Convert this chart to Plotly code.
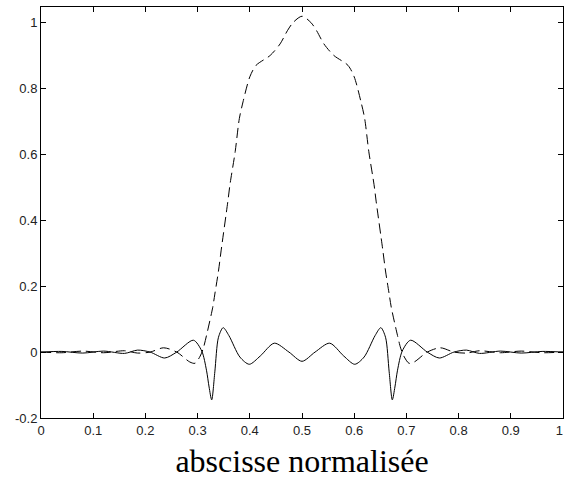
import plotly.graph_objects as go

# ---- data ----
x_solid = [0.00, 0.04, 0.08, 0.12, 0.16, 0.185, 0.209, 0.237, 0.26, 0.292, 0.308, 0.317,
           0.322, 0.327, 0.333, 0.340, 0.349, 0.360, 0.381, 0.399, 0.420, 0.447, 0.475,
           0.500, 0.525, 0.553, 0.580, 0.601, 0.619, 0.640, 0.651, 0.660, 0.667, 0.673,
           0.678, 0.683, 0.692, 0.708, 0.740, 0.763, 0.791, 0.815, 0.840, 0.880, 0.920,
           0.960, 1.00]
y_solid = [0.000, 0.002, -0.003, 0.003, -0.004, 0.006, 0.000, -0.018, 0.000, 0.036, 0.003, -0.055,
           -0.106, -0.145, -0.060, 0.045, 0.074, 0.050, -0.015, -0.037, -0.012, 0.027, 0.000,
           -0.028, 0.000, 0.027, -0.012, -0.037, -0.015, 0.050, 0.074, 0.045, -0.060, -0.145,
           -0.106, -0.055, 0.003, 0.036, 0.000, -0.018, 0.000, 0.006, -0.004, 0.003, -0.003,
           0.002, 0.000]

x_dashed = [0.00, 0.04, 0.08, 0.12, 0.16, 0.185, 0.209, 0.235, 0.26, 0.285, 0.295, 0.305,
            0.311, 0.317, 0.329, 0.333, 0.340, 0.345, 0.358, 0.362, 0.372, 0.380, 0.387,
            0.400, 0.412, 0.439, 0.458, 0.472, 0.483, 0.500, 0.517, 0.528, 0.542, 0.561,
            0.588, 0.600, 0.613, 0.620, 0.628, 0.638, 0.642, 0.655, 0.660, 0.667, 0.671,
            0.683, 0.689, 0.695, 0.705, 0.715, 0.740, 0.765, 0.791, 0.815, 0.840, 0.880,
            0.920, 0.960, 1.00]
y_dashed = [0.000, -0.002, 0.003, -0.002, 0.004, -0.003, 0.000, 0.013, 0.000, -0.030, -0.034, -0.012,
            0.012, 0.050, 0.136, 0.176, 0.246, 0.307, 0.458, 0.508, 0.608, 0.709, 0.759,
            0.835, 0.870, 0.900, 0.935, 0.975, 1.000, 1.019, 1.000, 0.975, 0.935, 0.900,
            0.870, 0.835, 0.759, 0.709, 0.608, 0.508, 0.458, 0.307, 0.246, 0.176, 0.136,
            0.050, 0.012, -0.012, -0.034, -0.030, 0.000, 0.013, 0.000, -0.003, 0.004, -0.002,
            0.003, -0.002, 0.000]

x_tick_vals = [0, 0.1, 0.2, 0.3, 0.4, 0.5, 0.6, 0.7, 0.8, 0.9, 1]
x_tick_text = ["0", "0.1", "0.2", "0.3", "0.4", "0.5", "0.6", "0.7", "0.8", "0.9", "1\u00a0\u00a0"]
y_tick_vals = [-0.2, 0, 0.2, 0.4, 0.6, 0.8, 1]
y_tick_text = ["-0.2", "0", "0.2", "0.4", "0.6", "0.8", "1"]

x_title = "abscisse normalisée"

fig = go.Figure()
fig.add_trace(go.Scatter(x=x_dashed, y=y_dashed, mode="lines",
                         line=dict(color="black", width=1, dash="10px,5px", shape="spline", smoothing=0.8),
                         showlegend=False, hoverinfo="skip"))
fig.add_trace(go.Scatter(x=x_solid, y=y_solid, mode="lines",
                         line=dict(color="black", width=1, shape="spline", smoothing=0.8),
                         showlegend=False, hoverinfo="skip"))

axis_common = dict(showgrid=False, zeroline=False, showline=True, linecolor="black",
                   linewidth=1, mirror="ticks", ticks="inside", ticklen=5, tickwidth=1,
                   tickcolor="black", automargin=False, ticklabeloverflow="allow",
                   tickfont=dict(family="Liberation Sans, Arial, sans-serif", size=13, color="#222"))

fig.update_layout(
    width=565, height=484,
    margin=dict(l=41, r=2, t=7, b=66, autoexpand=False),
    paper_bgcolor="white", plot_bgcolor="white",
    xaxis=dict(range=[0, 1], tickvals=x_tick_vals, ticktext=x_tick_text,
               title=dict(text=x_title, standoff=13,
                          font=dict(family="Liberation Serif, Times New Roman, serif", size=32, color="black")),
               **axis_common),
    yaxis=dict(range=[-0.2, 1.047], tickvals=y_tick_vals, ticktext=y_tick_text, **axis_common),
)

fig.write_html("out.html", config={"displayModeBar": False},
               post_script="document.body.style.margin='0';document.body.style.overflow='hidden';")
